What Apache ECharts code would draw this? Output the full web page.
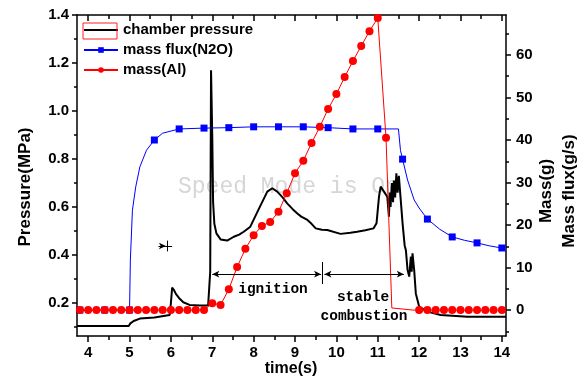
<!DOCTYPE html>
<html>
<head>
<meta charset="utf-8">
<script src="https://cdn.jsdelivr.net/npm/echarts@6/dist/echarts.min.js"></script>
<style>
  html, body { margin: 0; padding: 0; background: #fff; }
  #chart { width: 584px; height: 378px; }
</style>
</head>
<body>
<div id="chart"></div>
<script>
// tick positions
const xMajor = [4, 5, 6, 7, 8, 9, 10, 11, 12, 13, 14];
const xMinor = [4.5, 5.5, 6.5, 7.5, 8.5, 9.5, 10.5, 11.5, 12.5, 13.5];
const pMajor = [0.2, 0.4, 0.6, 0.8, 1.0, 1.2, 1.4];
const pMinor = [0.1, 0.3, 0.5, 0.7, 0.9, 1.1, 1.3];
const mMajor = [0, 10, 20, 30, 40, 50, 60];
const mMinor = [-5, 5, 15, 25, 35, 45, 55, 65];

// chamber pressure (time s, MPa)
const pressure = [
  [3.73, 0.104], [4.98, 0.104], [5.02, 0.115], [5.1, 0.125], [5.25, 0.135], [5.6, 0.14],
  [5.97, 0.15], [6.0, 0.2], [6.03, 0.264], [6.07, 0.255], [6.12, 0.238], [6.2, 0.22],
  [6.3, 0.203], [6.45, 0.192], [6.7, 0.19], [6.9, 0.19], [6.95, 0.33], [6.97, 1.17],
  [6.99, 1.17], [7.0, 0.89], [7.02, 0.62], [7.05, 0.53], [7.1, 0.49], [7.2, 0.465],
  [7.36, 0.46], [7.52, 0.476], [7.65, 0.485], [7.76, 0.497], [7.92, 0.518], [8.12, 0.59],
  [8.33, 0.664], [8.45, 0.678], [8.57, 0.664], [8.7, 0.64], [8.81, 0.615], [8.95, 0.59],
  [9.05, 0.574], [9.15, 0.56], [9.3, 0.546], [9.4, 0.53], [9.5, 0.511], [9.65, 0.505],
  [9.78, 0.504], [10.1, 0.488], [10.34, 0.493], [10.5, 0.497], [10.7, 0.503], [10.9, 0.511],
  [10.97, 0.532], [11.03, 0.643], [11.07, 0.685], [11.15, 0.664], [11.23, 0.643], [11.27, 0.56],
  [11.29, 0.66], [11.31, 0.6], [11.34, 0.7], [11.37, 0.62], [11.39, 0.71], [11.42, 0.64],
  [11.45, 0.74], [11.48, 0.66], [11.51, 0.73], [11.54, 0.726], [11.6, 0.532], [11.65, 0.44],
  [11.68, 0.42], [11.72, 0.338], [11.76, 0.31], [11.8, 0.393], [11.82, 0.33], [11.84, 0.407],
  [11.88, 0.338], [11.92, 0.24], [12.0, 0.185], [12.2, 0.164], [12.52, 0.15], [13.17, 0.143],
  [14.1, 0.143]
];

// mass flux N2O (time s, g/s)
const flux = [
  [3.73, 0], [3.8, 0], [4.4, 0], [5.0, 0], [5.02, 11.8], [5.07, 23.5], [5.15, 29],
  [5.25, 33.7], [5.41, 37.6], [5.6, 40], [5.8, 41.6], [6.2, 42.6], [6.8, 42.8],
  [7.4, 42.9], [8.0, 43.1], [8.6, 43.1], [9.2, 43.1], [9.8, 42.9], [10.4, 42.6],
  [11.0, 42.6], [11.5, 42.6], [11.55, 37.5], [11.6, 35.5], [11.72, 30.6], [11.88, 25.9],
  [12.0, 24], [12.2, 21.4], [12.5, 19], [12.8, 17.2], [13.1, 16.4], [13.4, 15.8],
  [13.7, 15.1], [14.0, 14.6]
];
const fluxMarks = [3.8, 4.4, 5.0, 5.6, 6.2, 6.8, 7.4, 8.0, 8.6, 9.2, 9.8, 10.4, 11.0, 11.6, 12.2, 12.8, 13.4, 14.0];

// mass Al (time s, g)
const mass = [
  [3.8, 0], [4.0, 0], [4.2, 0], [4.4, 0], [4.6, 0], [4.8, 0], [5.0, 0], [5.2, 0],
  [5.4, 0], [5.6, 0], [5.8, 0], [6.0, 0], [6.2, 0], [6.4, 0], [6.6, 0], [6.8, 0],
  [7.0, 1.6], [7.2, 1.2], [7.4, 4.9], [7.6, 10.1], [7.8, 14.4], [8.0, 17.6], [8.2, 19.8],
  [8.4, 20.7], [8.6, 23.1], [8.8, 27.5], [9.0, 32.2], [9.2, 35.1], [9.4, 39.3], [9.6, 43.1],
  [9.8, 47.3], [10.0, 50.8], [10.2, 54.8], [10.4, 58.6], [10.6, 62.1], [10.8, 65.6],
  [11.0, 68.7], [11.2, 40.5], [11.34, 0.5], [11.85, 0], [12.0, 0], [12.2, 0], [12.4, 0],
  [12.6, 0], [12.8, 0], [13.0, 0], [13.2, 0], [13.4, 0], [13.6, 0], [13.8, 0], [14.0, 0]
];
const massNoMark = [11.34, 11.85];

const font = 'Liberation Sans, Arial, sans-serif';
const lbl = { color: '#000', fontFamily: font, fontWeight: 'bold', fontSize: 15 };
const axLine = { show: true, onZero: false, lineStyle: { color: '#000', width: 1.5 } };
const noLine = { show: false, onZero: false };

function xAx(pos, ticks, len, inside, line, labels) {
  return {
    type: 'value', position: pos, min: 3.73, max: 14.1,
    axisLine: line ? axLine : noLine,
    axisTick: { show: true, customValues: ticks, length: len, inside: inside,
      lineStyle: { color: '#000', width: 1.5 } },
    axisLabel: labels ? Object.assign({ customValues: ticks, margin: 9 }, lbl) : { show: false },
    splitLine: { show: false }
  };
}
function yAx(pos, min, max, ticks, len, line, labels, fmt, margin) {
  return {
    type: 'value', position: pos, min: min, max: max,
    axisLine: line ? axLine : noLine,
    axisTick: { show: true, customValues: ticks, length: len,
      lineStyle: { color: '#000', width: 1.5 } },
    axisLabel: labels ? Object.assign({ customValues: ticks, margin: margin, formatter: fmt }, lbl) : { show: false },
    splitLine: { show: false }
  };
}

const chart = echarts.init(document.getElementById('chart'), null, { renderer: 'canvas' });

const option = {
  animation: false,
  backgroundColor: '#fff',
  grid: { left: 77, right: 78, top: 15, bottom: 42, containLabel: false },
  legend: {
    orient: 'vertical', left: 83, top: 22.5, padding: 0,
    itemWidth: 34, itemHeight: 7, itemGap: 5,
    textStyle: { color: '#000', fontFamily: font, fontWeight: 'bold', fontSize: 15 },
    data: [
      { name: 'chamber pressure', itemStyle: { opacity: 0 } },
      'mass flux(N2O)',
      'mass(Al)'
    ]
  },
  xAxis: [
    xAx('bottom', xMajor, 6, false, true, true),
    xAx('bottom', xMinor, 4, false, false, false),
    xAx('top', xMajor, 6, true, true, false),
    xAx('top', xMinor, 4, true, false, false)
  ],
  yAxis: [
    yAx('left', 0.0625, 1.4, pMajor, 5, true, true, v => v.toFixed(1), 8),
    yAx('left', 0.0625, 1.4, pMinor, 3, false, false),
    yAx('right', -6.1, 69.4, mMajor, 5, true, true, v => String(v), 10),
    yAx('right', -6.1, 69.4, mMinor, 3, false, false)
  ],
  graphic: [
    { type: 'text', left: 178, top: 175, z: 0, silent: true,
      style: { text: 'Speed Mode is On', fill: '#d6d6d6', font: '23px "Liberation Mono", monospace' } },
    { type: 'rect', shape: { x: 83, y: 23, width: 34, height: 16 }, z: 10,
      style: { fill: 'none', stroke: '#ff2020', lineWidth: 1 } },
    { type: 'text', x: 25, y: 187, rotation: Math.PI / 2,
      style: { text: 'Pressure(MPa)', fill: '#000', align: 'center', verticalAlign: 'middle',
        font: 'bold 17px "Liberation Sans", Arial, sans-serif' } },
    { type: 'text', x: 546, y: 191, rotation: Math.PI / 2,
      style: { text: 'Mass(g)', fill: '#000', align: 'center', verticalAlign: 'middle',
        font: 'bold 17px "Liberation Sans", Arial, sans-serif' } },
    { type: 'text', x: 569, y: 191, rotation: Math.PI / 2,
      style: { text: 'Mass flux(g/s)', fill: '#000', align: 'center', verticalAlign: 'middle',
        font: 'bold 17px "Liberation Sans", Arial, sans-serif' } },
    { type: 'text', x: 291, y: 369,
      style: { text: 'time(s)', fill: '#000', align: 'center', verticalAlign: 'middle',
        font: 'bold 16px "Liberation Sans", Arial, sans-serif' } },
    { type: 'text', x: 273, y: 289,
      style: { text: 'ignition', fill: '#000', align: 'center', verticalAlign: 'middle',
        font: 'bold 14.5px "Liberation Mono", monospace' } },
    { type: 'text', x: 363, y: 297,
      style: { text: 'stable', fill: '#000', align: 'center', verticalAlign: 'middle',
        font: 'bold 14.5px "Liberation Mono", monospace' } },
    { type: 'text', x: 364, y: 316,
      style: { text: 'combustion', fill: '#000', align: 'center', verticalAlign: 'middle',
        font: 'bold 14.5px "Liberation Mono", monospace' } }
  ],
  series: [
    {
      name: 'chamber pressure', type: 'line', xAxisIndex: 0, yAxisIndex: 0,
      data: pressure, symbol: 'none', color: '#000',
      lineStyle: { color: '#000', width: 2 }, z: 2,
      markLine: {
        silent: true, animation: false, label: { show: false },
        lineStyle: { color: '#000', width: 1, type: 'solid' },
        symbol: ['arrow', 'arrow'], symbolSize: [5, 7],
        data: [
          [{ coord: [7.0, 0.32] }, { coord: [9.63, 0.32] }],
          [{ coord: [9.71, 0.32] }, { coord: [11.63, 0.32] }],
          [{ coord: [9.67, 0.371], symbol: 'none' }, { coord: [9.67, 0.279], symbol: 'none' }],
          [{ coord: [5.7, 0.4375], symbol: 'none' }, { coord: [5.88, 0.4375] }],
          [{ coord: [5.88, 0.4375], symbol: 'none' }, { coord: [6.03, 0.4375], symbol: 'none' }],
          [{ coord: [5.91, 0.415], symbol: 'none' }, { coord: [5.91, 0.46], symbol: 'none' }]
        ]
      }
    },
    {
      name: 'mass flux(N2O)', type: 'line', xAxisIndex: 0, yAxisIndex: 2,
      data: flux.map(p => ({ value: p, symbol: fluxMarks.includes(p[0]) ? 'rect' : 'none' })),
      symbol: 'rect', symbolSize: 7, showAllSymbol: true, color: '#0000ff',
      lineStyle: { color: '#0000ff', width: 1 }, z: 3
    },
    {
      name: 'mass(Al)', type: 'line', xAxisIndex: 0, yAxisIndex: 2,
      data: mass.map(p => ({ value: p, symbol: massNoMark.includes(p[0]) ? 'none' : 'circle' })),
      symbol: 'circle', symbolSize: 8, showAllSymbol: true, color: '#ff0000',
      lineStyle: { color: '#ff0000', width: 1 }, z: 4
    }
  ]
};

chart.setOption(option);
</script>
</body>
</html>
